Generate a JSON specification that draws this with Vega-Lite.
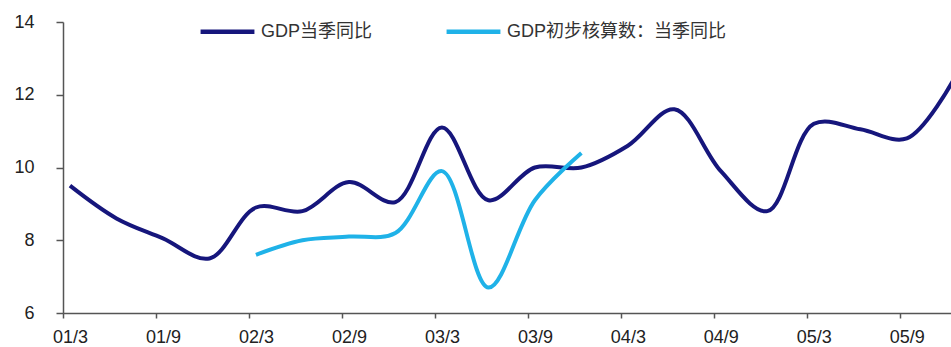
{
  "$schema": "https://vega.github.io/schema/vega-lite/v6.json",
  "width": 888,
  "height": 291,
  "autosize": {"type": "none"},
  "padding": {"left": 63, "top": 22, "right": 0, "bottom": 34},
  "background": "white",
  "config": {
    "view": {"stroke": null},
    "font": "Liberation Sans, Noto Sans CJK SC"
  },
  "data": {
    "values": [
      {"q": 0, "series": "GDP当季同比", "v": 9.5},
      {"q": 1, "series": "GDP当季同比", "v": 8.6},
      {"q": 2, "series": "GDP当季同比", "v": 8.05},
      {"q": 3, "series": "GDP当季同比", "v": 7.5},
      {"q": 4, "series": "GDP当季同比", "v": 8.9},
      {"q": 5, "series": "GDP当季同比", "v": 8.8},
      {"q": 6, "series": "GDP当季同比", "v": 9.6},
      {"q": 7, "series": "GDP当季同比", "v": 9.05},
      {"q": 8, "series": "GDP当季同比", "v": 11.1},
      {"q": 9, "series": "GDP当季同比", "v": 9.1},
      {"q": 10, "series": "GDP当季同比", "v": 10.0},
      {"q": 11, "series": "GDP当季同比", "v": 10.0},
      {"q": 12, "series": "GDP当季同比", "v": 10.6},
      {"q": 13, "series": "GDP当季同比", "v": 11.6},
      {"q": 14, "series": "GDP当季同比", "v": 9.9},
      {"q": 15, "series": "GDP当季同比", "v": 8.8},
      {"q": 16, "series": "GDP当季同比", "v": 11.2},
      {"q": 17, "series": "GDP当季同比", "v": 11.05},
      {"q": 18, "series": "GDP当季同比", "v": 10.8},
      {"q": 19, "series": "GDP当季同比", "v": 12.4},
      {"q": 4, "series": "GDP初步核算数：当季同比", "v": 7.6},
      {"q": 5, "series": "GDP初步核算数：当季同比", "v": 8.0},
      {"q": 6, "series": "GDP初步核算数：当季同比", "v": 8.1},
      {"q": 7, "series": "GDP初步核算数：当季同比", "v": 8.2},
      {"q": 8, "series": "GDP初步核算数：当季同比", "v": 9.9},
      {"q": 9, "series": "GDP初步核算数：当季同比", "v": 6.7},
      {"q": 10, "series": "GDP初步核算数：当季同比", "v": 9.1},
      {"q": 11, "series": "GDP初步核算数：当季同比", "v": 10.4}
    ]
  },
  "mark": {"type": "line", "interpolate": "catmull-rom", "strokeWidth": 4, "clip": true},
  "encoding": {
    "x": {
      "field": "q",
      "type": "quantitative",
      "scale": {"domain": [-0.15, 18.95], "nice": false, "zero": false},
      "axis": {
        "title": null,
        "values": [0, 2, 4, 6, 8, 10, 12, 14, 16, 18],
        "labelExpr": "['01/3','01/9','02/3','02/9','03/3','03/9','04/3','04/9','05/3','05/9'][datum.value/2]",
        "tickOffset": -7,
        "labelOffset": 7,
        "tickSize": 5,
        "tickColor": "#555555",
        "domainColor": "#555555",
        "domainWidth": 1.5,
        "tickWidth": 1.5,
        "grid": false,
        "labelFontSize": 18,
        "labelColor": "#222222",
        "labelPadding": 10,
        "labelFlush": false
      }
    },
    "y": {
      "field": "v",
      "type": "quantitative",
      "scale": {"domain": [6, 14], "nice": false, "zero": false},
      "axis": {
        "title": null,
        "values": [6, 8, 10, 12, 14],
        "tickSize": 7,
        "tickColor": "#555555",
        "domainColor": "#555555",
        "domainWidth": 1.5,
        "tickWidth": 1.5,
        "grid": false,
        "labelFontSize": 18,
        "labelColor": "#222222",
        "labelPadding": 22
      }
    },
    "color": {
      "field": "series",
      "type": "nominal",
      "scale": {
        "domain": ["GDP当季同比", "GDP初步核算数：当季同比"],
        "range": ["#16167c", "#1fb2e8"]
      },
      "legend": {
        "title": null,
        "orient": "none",
        "legendX": 135,
        "legendY": -20,
        "direction": "horizontal",
        "symbolType": "stroke",
        "symbolSize": 2900,
        "symbolStrokeWidth": 4.5,
        "labelFontSize": 18,
        "labelColor": "#333333",
        "labelOffset": 4,
        "columnPadding": 64,
        "labelLimit": 400
      }
    }
  }
}
